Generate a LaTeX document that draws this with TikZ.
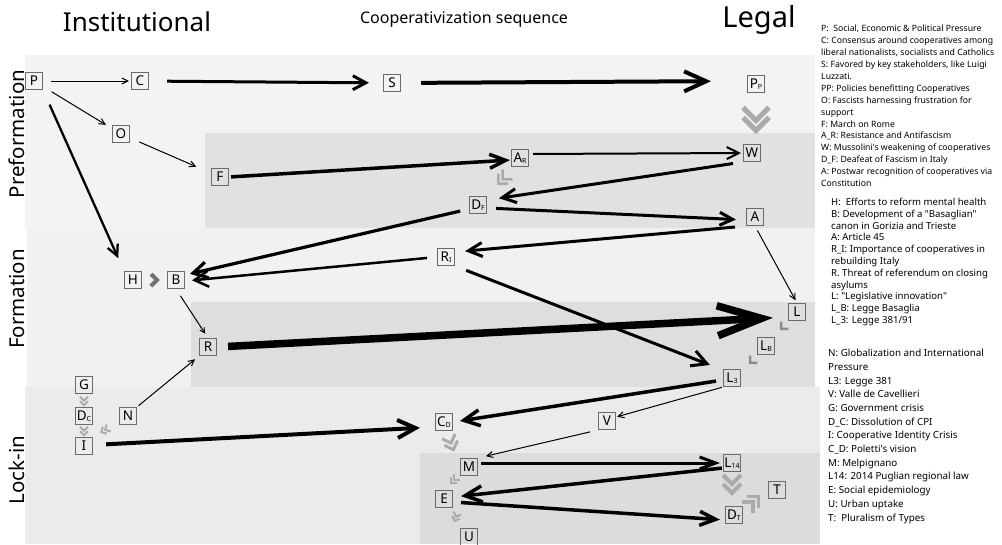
\documentclass[tikz,border=0pt]{standalone}
\usepackage{fontspec}
\setmainfont{Noto Sans}
\newfontfamily\keyfont{Noto Sans}[Ligatures=TeXOff]
\usetikzlibrary{arrows.meta}

\definecolor{bandA}{HTML}{F3F3F3}
\definecolor{bandAin}{HTML}{E1E1E1}
\definecolor{bandB}{HTML}{F1F1F1}
\definecolor{bandBin}{HTML}{DEDEDE}
\definecolor{bandC}{HTML}{EBEBEB}
\definecolor{bandCin}{HTML}{DCDCDC}
\definecolor{boxline}{HTML}{6A6A6A}
\definecolor{chevlight}{HTML}{ABABAB}
\definecolor{chevmid}{HTML}{8C8C8C}
\definecolor{chevdark}{HTML}{707070}

% small lowered index inside a stage box
\newcommand{\lsub}[1]{\raisebox{-1pt}{\fontsize{7}{7}\selectfont #1}}

\tikzset{
  % double chevron, centred on its position, pointing along +x
  pics/dchev/.style args={#1/#2/#3}{code={
    \draw[line width=#3, line join=miter, line cap=butt]
      ({(#2-#1)/2},-#1) -- ({(#1+#2)/2},0) -- ({(#2-#1)/2},#1)
      ({(-#1-#2)/2},-#1) -- ({(#1-#2)/2},0) -- ({(-#1-#2)/2},#1);
  }},
  % single chevron
  pics/schev/.style args={#1/#2}{code={
    \draw[line width=#2, line join=miter, line cap=butt]
      ({-#1/2},-#1) -- ({#1/2},0) -- ({-#1/2},#1);
  }}
}

\begin{document}
\begin{tikzpicture}[x=1pt,y=-1pt,
  stage/.style={draw=boxline, line width=1.1pt, minimum width=17pt,
    minimum height=17pt, inner sep=1pt, font=\fontsize{13.5}{13.5}\selectfont},
  link/.style n args={3}{draw=black, line width=#1,
    -{Straight Barb[length=#2, width=#3]}},
  legend/.style={anchor=north west, inner sep=0pt, align=left}
]
\useasboundingbox (0,0) rectangle (1002,544);
\fill[white] (0,0) rectangle (1002,544);

% stage bands
\fill[bandA]   (25,55)   rectangle (815,228);
\fill[bandAin] (205,133) rectangle (815,228);
\fill[bandB]   (27,228)  rectangle (815,387);
\fill[bandBin] (191,302) rectangle (815,387);
\fill[bandC]   (25,387)  rectangle (820,544);
\fill[bandCin] (420,453) rectangle (820,544);

% headings
\node[font=\fontsize{26}{26}\selectfont] (tInst) at (137,22) {Institutional};
\node[font=\fontsize{16}{16}\selectfont] (tSeq) at (464,20) {Cooperativization sequence};
\node[font=\fontsize{29}{29}\selectfont] (tLegal) at (759,20) {Legal};
\node[rotate=90, font=\fontsize{20.5}{20.5}\selectfont] (lPre) at (17,134) {Preformation};
\node[rotate=90, font=\fontsize{20.5}{20.5}\selectfont] (lForm) at (17,299) {Formation};
\node[rotate=90, font=\fontsize{20.5}{20.5}\selectfont] (lLock) at (17,470) {Lock-in};

% stages
\node[stage] (P) at (34,81) {P};
\node[stage] (C) at (140,81) {C};
\node[stage] (S) at (392,83) {S};
\node[stage] (PP) at (756,84) {P\lsub{P}};
\node[stage] (O) at (121,134) {O};
\node[stage] (F) at (220,177) {F};
\node[stage] (AR) at (520,158) {A\lsub{R}};
\node[stage] (W) at (752,153) {W};
\node[stage] (DF) at (478,205) {D\lsub{F}};
\node[stage] (A) at (755,217) {A};
\node[stage] (RI) at (446,257) {R\lsub{I}};
\node[stage] (H) at (133,280) {H};
\node[stage] (B) at (176,280) {B};
\node[stage] (R) at (208,347) {R};
\node[stage] (L) at (797,312) {L};
\node[stage] (LB) at (766,346) {L\lsub{B}};
\node[stage] (L3) at (732,378) {L\lsub{3}};
\node[stage] (G) at (84,385) {G};
\node[stage] (DC) at (84,416) {D\lsub{C}};
\node[stage] (I) at (84,446) {I};
\node[stage] (N) at (128,416) {N};
\node[stage] (CD) at (444,422) {C\lsub{D}};
\node[stage] (V) at (607,421) {V};
\node[stage] (M) at (469,467) {M};
\node[stage] (L14) at (732,463) {L\lsub{14}};
\node[stage] (E) at (444,499) {E};
\node[stage] (T) at (777,490) {T};
\node[stage] (DT) at (734,515) {D\lsub{T}};
\node[stage] (U) at (469,537) {U};

% causal links
\draw[link={1pt}{6pt}{6pt}, shorten <=8pt, shorten >=2pt] (P) -- (C);
\draw[link={3pt}{13pt}{14pt}, shorten <=18pt, shorten >=14pt] (C) -- (S);
\draw[link={4pt}{22pt}{20pt}, shorten <=20pt, shorten >=36pt] (S) -- ([yshift=3pt]PP.west);
\draw[link={1pt}{6pt}{6pt}, shorten <=10pt, shorten >=7pt] (P) -- (O);
\draw[link={1pt}{6pt}{6pt}, shorten <=10pt, shorten >=16pt] (O) -- (F);
\draw[link={2.3pt}{11pt}{11pt}, shorten <=16pt, shorten >=14pt] (P.south east) -- (H.north west);
\draw[link={3.5pt}{16pt}{14pt}, shorten <=2pt, shorten >=1pt] (F.east) -- ([yshift=-2pt]AR.west);
\draw[link={2pt}{12pt}{12pt}, shorten <=4pt, shorten >=2pt] ([yshift=4pt]AR.east) -- (W.west);
\draw[link={3pt}{14pt}{14pt}, shorten <=10pt, shorten >=12pt] (W.south west) -- ([yshift=5pt]DF.east);
\draw[link={3pt}{13pt}{13pt}, shorten <=9pt, shorten >=10pt] ([yshift=-3pt]DF.east) -- ([yshift=-3pt]A.west);
\draw[link={3.2pt}{14pt}{16pt}, shorten <=9pt, shorten >=5pt] ([yshift=-4pt]DF.west) -- ([yshift=5pt]B.east);
\draw[link={3pt}{14pt}{14pt}, shorten <=11pt, shorten >=10pt] (A.south west) -- ([yshift=5pt]RI.east);
\draw[link={2.5pt}{14pt}{16pt}, shorten <=10pt, shorten >=7pt] (RI.west) -- ([yshift=-1pt]B.east);
\draw[link={3pt}{15pt}{16pt}, shorten <=12pt, shorten >=14pt] (RI.south east) -- ([yshift=8pt]L3.west);
\draw[link={1pt}{6pt}{6pt}, shorten <=5pt, shorten >=3pt] (A.south) -- (L.north);
\draw[link={1pt}{5pt}{5pt}, shorten <=8pt, shorten >=5pt] (B.south) -- (R.north);
\draw[link={7.5pt}{44pt}{30pt}, shorten <=11pt, shorten >=15pt] (R.east) -- ([yshift=-5pt]L.west);
\draw[link={1pt}{6pt}{6pt}, shorten <=2pt, shorten >=5pt] (N.north east) -- (R.south west);
\draw[link={4pt}{18pt}{18pt}, shorten <=13pt, shorten >=15pt] ([yshift=1pt]I.east) -- ([yshift=-5pt]CD.west);
\draw[link={3.5pt}{16pt}{16pt}, shorten <=7pt, shorten >=7pt] ([yshift=-2pt]L3.west) -- (CD.east);
\draw[link={1pt}{6pt}{6pt}, shorten <=1pt, shorten >=1pt] (L3.south west) -- ([yshift=4pt]V.east);
\draw[link={1pt}{6pt}{6pt}, shorten <=8pt, shorten >=8pt] (V.south west) -- (M.north east);
\draw[link={3pt}{16pt}{12pt}, shorten <=3pt, shorten >=3pt] ([yshift=4pt]M.east) -- (L14.west);
\draw[link={3.5pt}{17pt}{16pt}, shorten <=1pt, shorten >=8pt] ([yshift=-5pt]L14.west) -- ([yshift=2pt]E.east);
\draw[link={3.5pt}{16pt}{14pt}, shorten <=8pt, shorten >=5pt] ([yshift=-3pt]E.east) -- ([yshift=-5pt]DT.west);

% sequencing chevrons
\pic[chevlight, rotate=-90] at (756,119) {dchev=13/10/5};
\pic[chevdark] at (154,280) {schev=6/4};
\pic[chevlight, rotate=-135] at (503,179) {dchev=7/6/2.5};
\pic[chevmid, rotate=-135] at (783,327) {schev=5/2.5};
\pic[chevmid, rotate=-135] at (752,361) {schev=5/2.5};
\pic[chevlight, rotate=-90] at (84,401) {dchev=4/4.5/2};
\pic[chevlight, rotate=-90] at (84,431) {dchev=4/4.5/2};
\pic[chevlight, rotate=-150] at (105,430) {dchev=4/4.5/2};
\pic[chevlight, rotate=-70] at (451,443) {dchev=7/7/3};
\pic[chevlight, rotate=-135] at (454,480) {dchev=4/4.5/2};
\pic[chevlight, rotate=-110] at (456,517) {dchev=4/4.5/2};
\pic[chevlight, rotate=-90] at (732,484) {dchev=9/9/4};
\pic[chevlight, rotate=45] at (753,502) {dchev=8/8/3.5};

% key
\node[legend, font=\keyfont\fontsize{8.7}{11.9}\selectfont] (legA) at (821,25) {%
P:\ \ Social, Economic \& Political Pressure\\
C: Consensus around cooperatives among\\
liberal nationalists, socialists and Catholics\\
S: Favored by key stakeholders, like Luigi\\
Luzzati.\\
PP: Policies benefitting Cooperatives\\
O: Fascists harnessing frustration for\\
support\\
F: March on Rome\\
A\_R: Resistance and Antifascism\\
W: Mussolini's weakening of cooperatives\\
D\_F: Deafeat of Fascism in Italy\\
A: Postwar recognition of cooperatives via\\
Constitution};
\node[legend, font=\keyfont\fontsize{9.6}{11.8}\selectfont] (legB) at (831,198) {%
H:\ \ Efforts to reform mental health\\
B: Development of a "Basaglian"\\
canon in Gorizia and Trieste\\
A: Article 45\\
R\_I: Importance of cooperatives in\\
rebuilding Italy\\
R. Threat of referendum on closing\\
asylums\\
L: "Legislative innovation"\\
L\_B: Legge Basaglia\\
L\_3: Legge 381/91};
\node[legend, font=\keyfont\fontsize{9.8}{13.7}\selectfont] (legC) at (828,349) {%
N: Globalization and International\\
Pressure\\
L3: Legge 381\\
V: Valle de Cavellieri\\
G: Government crisis\\
D\_C: Dissolution of CPI\\
I: Cooperative Identity Crisis\\
C\_D: Poletti's vision\\
M: Melpignano\\
L14: 2014 Puglian regional law\\
E: Social epidemiology\\
U: Urban uptake\\
T:\ \ Pluralism of Types};
\end{tikzpicture}
\end{document}
